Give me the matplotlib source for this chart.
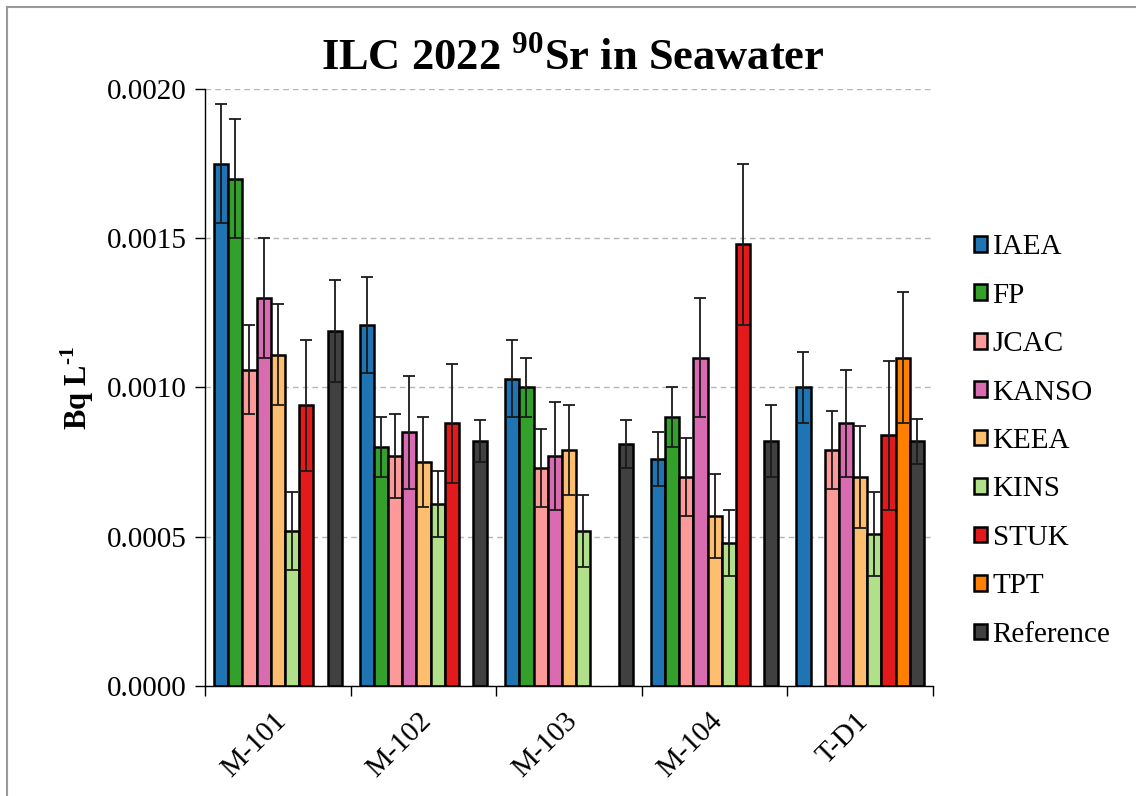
import numpy as np
import matplotlib
matplotlib.use('Agg')
import matplotlib.pyplot as plt
import matplotlib.transforms as mtransforms
from matplotlib.patches import Patch
from matplotlib.lines import Line2D

plt.rcParams['font.family'] = ['Liberation Serif', 'DejaVu Serif']
plt.rcParams['mathtext.fontset'] = 'custom'
plt.rcParams['mathtext.rm'] = 'Liberation Serif'
plt.rcParams['mathtext.bf'] = 'Liberation Serif:bold'

nan = np.nan
samples = ['M-101', 'M-102', 'M-103', 'M-104', 'T-D1']
labs = ['IAEA', 'FP', 'JCAC', 'KANSO', 'KEEA', 'KINS', 'STUK', 'TPT', 'Reference']
colors = ['#1f74b4', '#33a02c', '#fb9a99', '#d96bb1', '#fdbf6f', '#b2df8a', '#e31a1c', '#ff7f00', '#404040']

# activity (Bq/L) and uncertainty for each lab, per sample
iaea = [0.00175, 0.00121, 0.00103, 0.00076, 0.00100]
iaea_u = [0.00020, 0.00016, 0.00013, 0.00009, 0.00012]
fp = [0.00170, 0.00080, 0.00100, 0.00090, nan]
fp_u = [0.00020, 0.00010, 0.00010, 0.00010, nan]
jcac = [0.00106, 0.00077, 0.00073, 0.00070, 0.00079]
jcac_u = [0.00015, 0.00014, 0.00013, 0.00013, 0.00013]
kanso = [0.00130, 0.00085, 0.00077, 0.00110, 0.00088]
kanso_u = [0.00020, 0.00019, 0.00018, 0.00020, 0.00018]
keea = [0.00111, 0.00075, 0.00079, 0.00057, 0.00070]
keea_u = [0.00017, 0.00015, 0.00015, 0.00014, 0.00017]
kins = [0.00052, 0.00061, 0.00052, 0.00048, 0.00051]
kins_u = [0.00013, 0.00011, 0.00012, 0.00011, 0.00014]
stuk = [0.00094, 0.00088, nan, 0.00148, 0.00084]
stuk_u = [0.00022, 0.00020, nan, 0.00027, 0.00025]
tpt = [nan, nan, nan, nan, 0.00110]
tpt_u = [nan, nan, nan, nan, 0.00022]
ref = [0.00119, 0.00082, 0.00081, 0.00082, 0.00082]
ref_u = [0.00017, 0.00007, 0.00008, 0.00012, 0.000075]

vals = [iaea, fp, jcac, kanso, keea, kins, stuk, tpt, ref]
errs = [iaea_u, fp_u, jcac_u, kanso_u, keea_u, kins_u, stuk_u, tpt_u, ref_u]

fig = plt.figure(figsize=(11.36, 7.96), dpi=100)
ax = fig.add_axes([0.1805, 0.1382, 0.6408, 0.75])

x = np.arange(len(samples))
w = 0.0975
for j in range(len(labs)):
    xs = x + (j - 4) * w
    ax.bar(xs, vals[j], width=w, color=colors[j], edgecolor='black', linewidth=1.8, zorder=2)
    ax.errorbar(xs, vals[j], yerr=errs[j], fmt='none', ecolor='#1a1a1a',
                elinewidth=1.3, capsize=4.5, capthick=1.3, zorder=3)

ax.set_xlim(-0.5, 4.5)
ax.set_ylim(0, 0.002)
ax.set_yticks(np.arange(0, 0.00201, 0.0005))
ax.yaxis.set_major_formatter(plt.FuncFormatter(lambda v, p: '%.4f' % v))
ax.grid(axis='y', color='#b5b5b5', linestyle=(0, (4, 3)), linewidth=1, zorder=0)
ax.set_axisbelow(True)

# category labels, rotated, placed a little left of the group centre
ax.set_xticks(np.arange(-0.5, 4.6, 1))
ax.set_xticklabels([])
ax.tick_params(axis='x', length=7, width=1, direction='out')
lab_tr = ax.get_xaxis_transform() + mtransforms.ScaledTranslation(-5 / 100, -22 / 100, fig.dpi_scale_trans)
for xi, s in zip(x, samples):
    ax.text(xi, 0, s, transform=lab_tr, rotation=45, ha='right', va='top',
            rotation_mode='anchor', fontsize=21)
ax.tick_params(axis='y', length=7, width=1, direction='out', labelsize=21, pad=6)

ax.spines['top'].set_visible(False)
ax.spines['right'].set_visible(False)
for s in ['left', 'bottom']:
    ax.spines[s].set_linewidth(1)

ax.set_ylabel(r'Bq L$^{\mathbf{\text{-}1}}$', fontsize=22, fontweight='bold', labelpad=8)
fig.text(0.504, 0.912, r'ILC 2022 $^{\mathbf{90}}$Sr in Seawater', ha='center', va='baseline',
         fontsize=32, fontweight='bold')

handles = [Patch(facecolor=c, edgecolor='black', linewidth=1.8) for c in colors]
fig.legend(handles, labs, loc='center left', bbox_to_anchor=(0.857, 0.446), frameon=False,
           fontsize=21, handlelength=0.45, handleheight=0.45, handletextpad=0.2,
           labelspacing=0.77, borderpad=0, borderaxespad=0)

# thin grey frame around the chart area
fig.add_artist(Line2D([7 / 1136, 7 / 1136], [0, 1 - 7 / 796], color='#9a9a9a', linewidth=1.5))
fig.add_artist(Line2D([7 / 1136, 1], [1 - 7 / 796, 1 - 7 / 796], color='#9a9a9a', linewidth=1.5))

fig.savefig('out.png', dpi=100)
